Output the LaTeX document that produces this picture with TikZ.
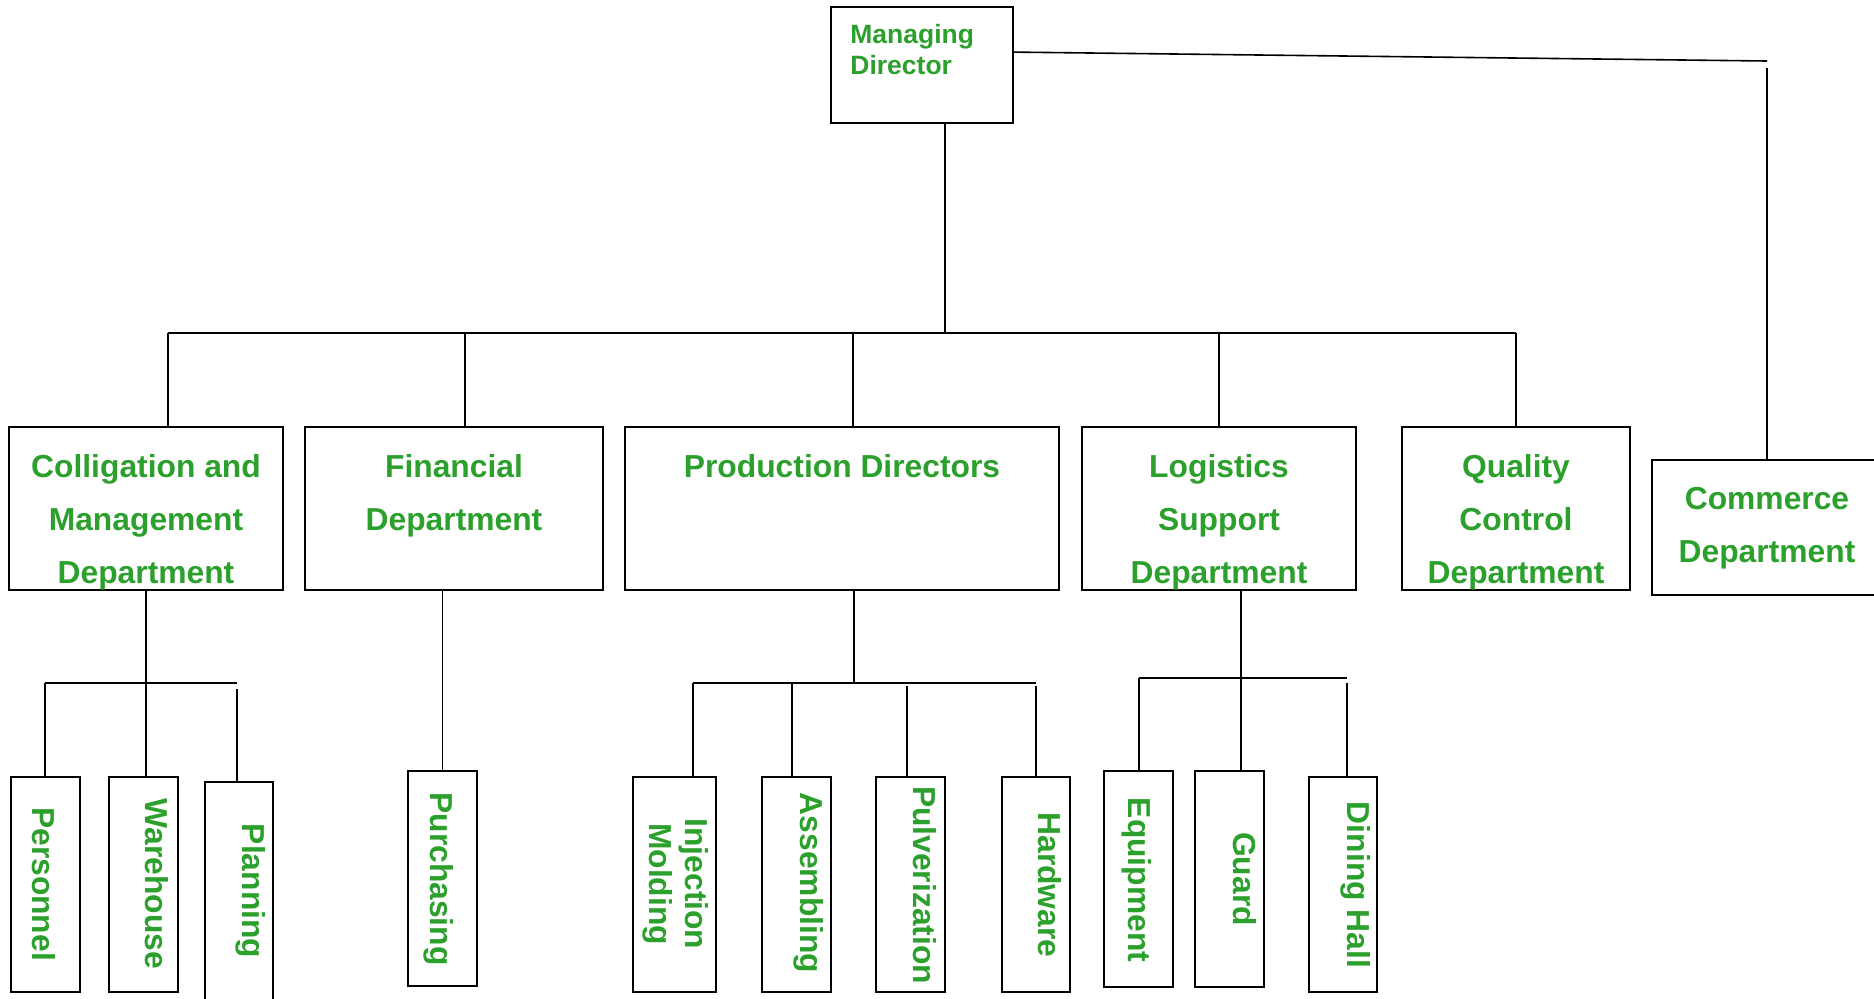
\documentclass[tikz,border=0pt]{standalone}
\usepackage{fontspec}
\setmainfont{Liberation Sans}
\usepackage{xcolor}
\usetikzlibrary{positioning, fit, calc}
\definecolor{leafgreen}{RGB}{44,160,44}

\begin{document}
\begin{tikzpicture}[x=0.5pt,y=-0.5pt]
  \tikzset{
    box/.style={draw, line width=0.9pt, inner sep=0pt},
    link/.style={line width=0.8pt},
    head/.style={text=leafgreen, inner sep=0pt, align=center, font=\bfseries\fontsize{15.9}{26.4}\selectfont},
    vtxt/.style={text=leafgreen, inner sep=0pt, rotate=-90, align=center, font=\bfseries\fontsize{15.9}{18}\selectfont}
  }
  \useasboundingbox (0,0) rectangle (1874,998);

  % top level
  \node[box, fit={(831,7) (1013,123)}] (md) {};
  \node[box, fit={(9,427) (283,590)}] (cm) {};
  \node[box, fit={(305,427) (603,590)}] (fin) {};
  \node[box, fit={(625,427) (1059,590)}] (prod) {};
  \node[box, fit={(1082,427) (1356,590)}] (log) {};
  \node[box, fit={(1402,427) (1630,590)}] (qc) {};
  \node[box, fit={(1652,460) (1882,595)}] (com) {};

  \node[head, anchor=north west, align=left, font=\bfseries\fontsize{13.25}{15.5}\selectfont] (mdtxt) at (850,24) {Managing\\Director};
  \node[head, below=14pt of cm.north] (cmtxt) {Colligation and\\Management\\Department};
  \node[head, below=14pt of fin.north] (fintxt) {Financial\\Department};
  \node[head, below=14pt of prod.north] (prodtxt) {Production Directors};
  \node[head, below=14pt of log.north] (logtxt) {Logistics\\Support\\Department};
  \node[head, below=14pt of qc.north] (qctxt) {Quality\\Control\\Department};
  \node[head, below=14pt of com.north] (comtxt) {Commerce\\Department};

  % lower level
  \node[box, fit={(11,777) (80,992)}] (pers) {};
  \node[box, fit={(109,777) (178,992)}] (ware) {};
  \node[box, fit={(205,782) (273,1006)}] (plan) {};
  \node[box, fit={(408,771) (477,986)}] (purch) {};
  \node[box, fit={(633,777) (716,992)}] (inj) {};
  \node[box, fit={(762,777) (831,992)}] (asm) {};
  \node[box, fit={(876,777) (945,992)}] (pulv) {};
  \node[box, fit={(1002,777) (1070,992)}] (hard) {};
  \node[box, fit={(1104,771) (1173,987)}] (equip) {};
  \node[box, fit={(1195,771) (1264,987)}] (guard) {};
  \node[box, fit={(1309,777) (1377,992)}] (din) {};

  \node[vtxt] (perstxt) at (44,884) {Personnel};
  \node[vtxt] (waretxt) at (157,884) {Warehouse};
  \node[vtxt] (plantxt) at (251,891) {Planning};
  \node[vtxt] (purchtxt) at (439,879) {Purchasing};
  \node[vtxt] (injtxt) at (676,884) {Injection\\Molding};
  \node[vtxt] (asmtxt) at (809,883) {Assembling};
  \node[vtxt] (pulvtxt) at (925,885) {Pulverization};
  \node[vtxt] (hardtxt) at (1050,885) {Hardware};
  \node[vtxt] (equiptxt) at (1137,880) {Equipment};
  \node[vtxt] (guardtxt) at (1245,879) {Guard};
  \node[vtxt] (dintxt) at (1356,885) {Dining Hall};

  % connectors
  \coordinate (b0) at (945,333);
  \coordinate (b1) at (168,333);
  \coordinate (b2) at (465,333);
  \coordinate (b3) at (853,333);
  \coordinate (b4) at (1219,333);
  \coordinate (b5) at (1516,333);
  \coordinate (turn) at (1767,61);
  \draw[link] (b0 |- md.south) -- (b0);
  \draw[link] (b1) -- (b5);
  \draw[link] (b1) -- (b1 |- cm.north);
  \draw[link] (b2) -- (b2 |- fin.north);
  \draw[link] (b3) -- (b3 |- prod.north);
  \draw[link] (b4) -- (b4 |- log.north);
  \draw[link] (b5) -- (b5 |- qc.north);
  \draw[link] ([yshift=-23pt]md.north east) -- (turn);
  \draw[link] ([yshift=-3.5pt]turn) -- (com.north);

  \coordinate (s1) at (45,683);
  \coordinate (s2) at (146,683);
  \coordinate (s3) at (237,683);
  \draw[link] (cm.south) -- (s2);
  \draw[link] (s1) -- (s3);
  \draw[link] (s1) -- (s1 |- pers.north);
  \draw[link] (s2) -- (s2 |- ware.north);
  \draw[link] ([yshift=-3pt]s3) -- (s3 |- plan.north);
  \draw[link] (purch.north |- fin.south) -- (purch.north);

  \coordinate (p0) at (854,683);
  \coordinate (p1) at (693,683);
  \coordinate (p2) at (792,683);
  \coordinate (p3) at (907,683);
  \coordinate (p4) at (1036,683);
  \draw[link] (p0 |- prod.south) -- (p0);
  \draw[link] (p1) -- (p4);
  \draw[link] (p1) -- (p1 |- inj.north);
  \draw[link] (p2) -- (p2 |- asm.north);
  \draw[link] ([yshift=-1.5pt]p3) -- (p3 |- pulv.north);
  \draw[link] ([yshift=-1.5pt]p4) -- (p4 |- hard.north);

  \coordinate (l0) at (1241,678);
  \coordinate (l1) at (1139,678);
  \coordinate (l3) at (1347,678);
  \draw[link] (l0 |- log.south) -- (l0 |- guard.north);
  \draw[link] (l1) -- (l3);
  \draw[link] (l1) -- (l1 |- equip.north);
  \draw[link] ([yshift=-2.5pt]l3) -- (l3 |- din.north);
\end{tikzpicture}
\end{document}
